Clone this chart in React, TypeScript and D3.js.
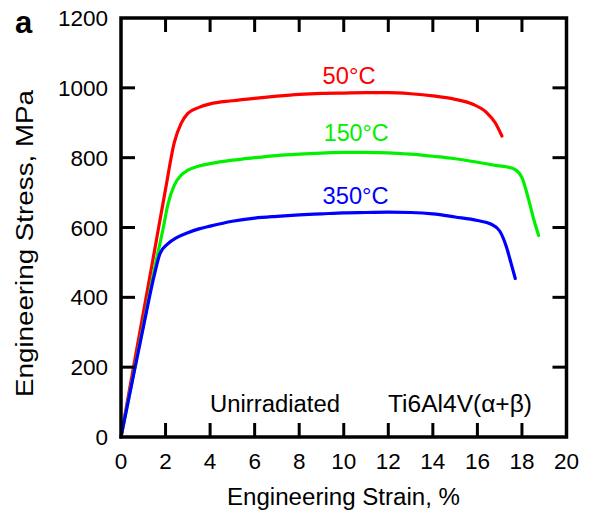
import React from "react";
import * as d3 from "d3";

const xTicks = [0, 2, 4, 6, 8, 10, 12, 14, 16, 18, 20];
const yTicks = [0, 200, 400, 600, 800, 1000, 1200];

const strain50 = [0, 0.5, 1.0, 1.5, 2.0, 2.4, 2.7, 3.0, 3.5, 4.0, 5.0, 6.0, 7.0, 8.0, 9.0, 10, 11, 12, 13, 14, 15, 15.8, 16.4, 16.8, 17.1];
const stress50 = [0, 178, 355, 532, 710, 845, 898, 927, 944, 954, 963, 970, 976, 981, 984, 985, 986, 986, 983, 977, 967, 953, 930, 900, 862];

const strain150 = [0, 0.5, 1.0, 1.5, 1.9, 2.1, 2.4, 2.7, 3.0, 3.5, 4.0, 5.0, 6.0, 7.0, 8.0, 9.0, 10, 11, 12, 13, 14, 15, 16, 16.8, 17.3, 17.7, 18.0, 18.3, 18.5, 18.75];
const stress150 = [0, 160, 320, 480, 600, 665, 722, 750, 764, 776, 783, 793, 800, 806, 810, 813, 815, 815, 814, 810, 804, 797, 787, 778, 774, 766, 743, 680, 630, 577];

const strain350 = [0, 0.5, 1.0, 1.5, 1.75, 2.1, 2.5, 3.0, 3.5, 4.0, 5, 6, 7, 8, 9, 10, 11, 12, 13, 14, 15, 16, 16.6, 17.0, 17.3, 17.5, 17.7];
const stress350 = [0, 158, 314, 465, 525, 553, 571, 585, 596, 604, 618, 627, 632, 636, 639, 642, 643, 644, 643, 639, 630, 620, 610, 590, 545, 500, 454];

const seriesNames = ["50°C", "150°C", "350°C"];
const seriesColors = ["#ff0000", "#00f000", "#0000ff"];

const W = 591;
const H = 514;

export default function App() {
  const x = d3.scaleLinear().domain([0, 20]).range([121, 566.5]);
  const y = d3.scaleLinear().domain([0, 1200]).range([437, 18]);
  const line = d3
    .line<[number, number]>()
    .x((d) => x(d[0]))
    .y((d) => y(d[1]))
    .curve(d3.curveMonotoneX);

  const series = [
    strain50.map((s, i) => [s, stress50[i]] as [number, number]),
    strain150.map((s, i) => [s, stress150[i]] as [number, number]),
    strain350.map((s, i) => [s, stress350[i]] as [number, number]),
  ];
  const labelPos = [
    { sx: 9.05, sy: 1010 },
    { sx: 9.1, sy: 847 },
    { sx: 9.05, sy: 667 },
  ];
  const labelLen = [53, 65, 66];
  const font = "'Liberation Sans', Arial, Helvetica, sans-serif";
  const tick = 14;
  const [x0, x1] = x.range();
  const [y0, y1] = y.range();

  return (
    <svg
      width={W}
      height={H}
      style={{ position: "absolute", left: 0, top: 0, background: "#fff" }}
      fontFamily={font}
    >
      <rect x={0} y={0} width={W} height={H} fill="#fff" />
      {series.map((d, i) => (
        <path key={i} d={line(d) || ""} fill="none" stroke={seriesColors[i]} strokeWidth={3.2} strokeLinejoin="round" strokeLinecap="round" />
      ))}
      {xTicks.slice(1, -1).map((t) => (
        <g key={"xt" + t} stroke="#000" strokeWidth={3}>
          <line x1={x(t)} x2={x(t)} y1={y0} y2={y0 - tick} />
          <line x1={x(t)} x2={x(t)} y1={y1} y2={y1 + tick} />
        </g>
      ))}
      {yTicks.slice(1, -1).map((t) => (
        <g key={"yt" + t} stroke="#000" strokeWidth={3}>
          <line x1={x0} x2={x0 + tick} y1={y(t)} y2={y(t)} />
          <line x1={x1} x2={x1 - tick} y1={y(t)} y2={y(t)} />
        </g>
      ))}
      <rect x={x0} y={y1} width={x1 - x0} height={y0 - y1} fill="none" stroke="#000" strokeWidth={3.5} />
      {xTicks.map((t) => (
        <text key={"xl" + t} x={x(t)} y={469} textAnchor="middle" fontSize={22.5} fill="#000">
          {t}
        </text>
      ))}
      {yTicks.map((t) => (
        <text key={"yl" + t} x={108} y={y(t)} dy="0.36em" textAnchor="end" fontSize={22.5} fill="#000">
          {t}
        </text>
      ))}
      <text x={227} y={505} fontSize={23} fill="#000" textLength={233} lengthAdjust="spacingAndGlyphs">
        Engineering Strain, %
      </text>
      <text transform={`translate(33,397) rotate(-90)`} fontSize={23} fill="#000" textLength={307} lengthAdjust="spacingAndGlyphs">
        Engineering Stress, MPa
      </text>
      <text x={15} y={33} fontSize={31} fontWeight="bold" fill="#000">
        a
      </text>
      {seriesNames.map((n, i) => (
        <text key={n} x={x(labelPos[i].sx)} y={y(labelPos[i].sy)} fontSize={23} fill={seriesColors[i]} textLength={labelLen[i]} lengthAdjust="spacingAndGlyphs">
          {n}
        </text>
      ))}
      <text x={210} y={412} fontSize={23} fill="#000" textLength={130} lengthAdjust="spacingAndGlyphs">
        Unirradiated
      </text>
      <text x={388} y={412} fontSize={23} fill="#000" textLength={144} lengthAdjust="spacingAndGlyphs">
        Ti6Al4V(α+β)
      </text>
    </svg>
  );
}
